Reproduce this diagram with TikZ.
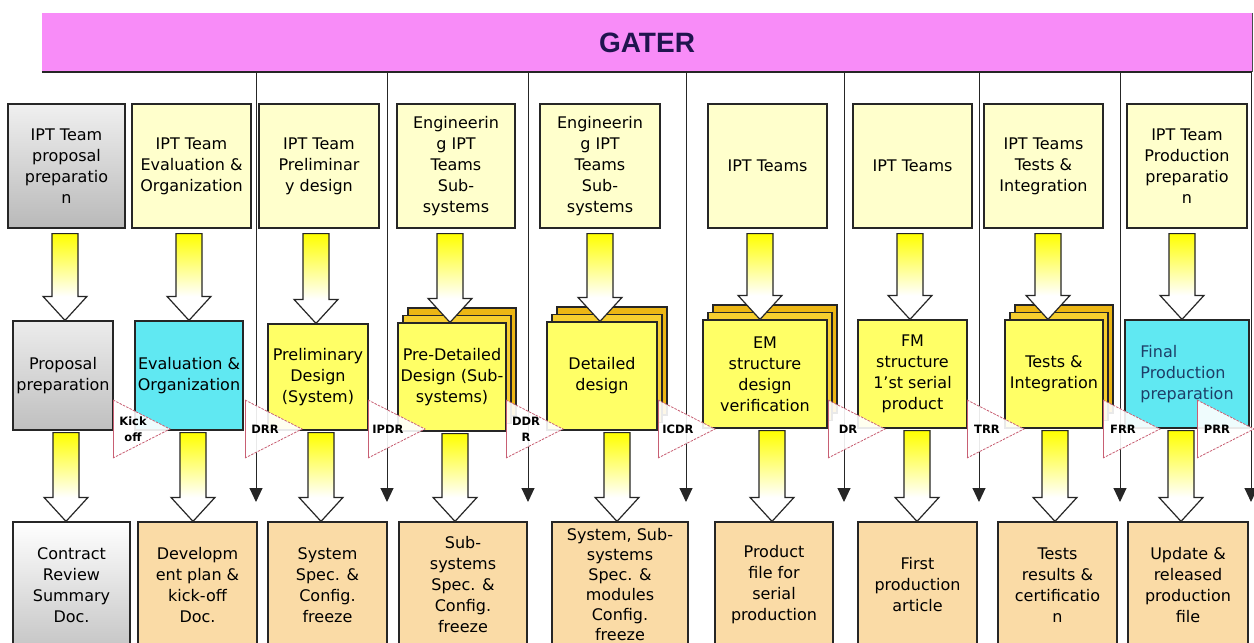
\documentclass[tikz,border=0pt]{standalone}
\usepackage{fontspec}
\setmainfont{DejaVu Sans}
\newfontfamily\titlefont{Liberation Sans}
\usetikzlibrary{arrows.meta,calc,shadows}

\definecolor{bannerpink}{RGB}{248,140,248}
\definecolor{gatertext}{RGB}{32,20,78}
\definecolor{teampale}{RGB}{255,255,204}
\definecolor{phaseyellow}{RGB}{255,255,102}
\definecolor{cyanfill}{RGB}{96,232,242}
\definecolor{docbeige}{RGB}{250,219,166}
\definecolor{sheetgold}{RGB}{236,182,20}
\definecolor{sheetgoldlight}{RGB}{246,206,46}
\definecolor{gateline}{RGB}{200,95,115}
\definecolor{finaltext}{RGB}{30,62,104}

% hollow block arrow: #1 = x, #2 = source node, #3 = target node, #4 = gap below source
\newcommand\blockarrow[4]{%
  \path let \p1=(#2.south), \p2=(#3.north) in
    (#1pt,\y1-#4pt) coordinate (ba-top)
    (#1pt,\y2+24pt) coordinate (ba-neck)
    (#1pt,\y2) coordinate (ba-tip);
  \fill[white] ($(ba-top)+(-13,0)$) -- ($(ba-top)+(13,0)$) -- ($(ba-neck)+(13,0)$)
    -- ($(ba-neck)+(22,0)$) -- (ba-tip) -- ($(ba-neck)+(-22,0)$) -- ($(ba-neck)+(-13,0)$) -- cycle;
  \shade[top color=yellow, middle color=yellow!75, bottom color=white]
    ($(ba-top)+(-13,0)$) rectangle ($(ba-neck)+(13,0)$);
  \draw[arrowline] ($(ba-top)+(-13,0)$) -- ($(ba-top)+(13,0)$) -- ($(ba-neck)+(13,0)$)
    -- ($(ba-neck)+(22,0)$) -- (ba-tip) -- ($(ba-neck)+(-22,0)$) -- ($(ba-neck)+(-13,0)$) -- cycle;
}

% review gate: #1 = name, #2 = left x, #3 = label
\newcommand\gate[3]{%
  \fill[white, fill opacity=0.9] (#2,400) -- (#2+57,429) -- (#2,458) -- cycle;
  \draw[gateline, line width=0.8pt, dash pattern=on 2.5pt off 1.2pt] (#2,400) -- (#2+57,429) -- (#2,458);
  \draw[gateline, line width=0.8pt] (#2,400) -- (#2,458);
  \node[gatelabel] (#1) at (#2+20,429) {#3};
}

\begin{document}
\begin{tikzpicture}[x=1pt, y=-1pt,
  box/.style={draw=black!85, line width=1.2pt, inner sep=2pt, align=center,
              font=\fontsize{16}{21}\selectfont},
  team/.style={box, fill=teampale, minimum height=124pt},
  teamgrey/.style={box, top color=gray!12, bottom color=gray!55, minimum height=124pt},
  phase/.style={box, fill=phaseyellow},
  phasecyan/.style={box, fill=cyanfill},
  phasegrey/.style={box, top color=gray!15, bottom color=gray!50},
  sheets/.style={phase,
    copy shadow={shadow xshift=10pt, shadow yshift=15pt, fill=sheetgold, draw=black!85, line width=1.2pt},
    copy shadow={shadow xshift=5pt, shadow yshift=7.5pt, fill=sheetgoldlight, draw=black!85, line width=1.2pt}},
  doc/.style={box, fill=docbeige, minimum height=126pt},
  docgrey/.style={box, top color=white, bottom color=gray!45, minimum height=126pt},
  arrowline/.style={draw=black!85, line width=1.2pt, line join=miter},
  sepline/.style={draw=black!85, line width=1pt, -{Triangle[length=14pt,width=13pt]}},
  gatelabel/.style={align=center, inner sep=0pt, font=\bfseries\fontsize{11.5}{16}\selectfont}
]
\useasboundingbox (0,0) rectangle (1254,643);
\fill[white] (0,0) rectangle (1254,643);
\clip (0,0) rectangle (1254,643);

% title banner
\node[fill=bannerpink, minimum width=1210pt, minimum height=59pt, inner sep=0pt,
      text=gatertext, font=\titlefont\bfseries\fontsize{28}{30}\selectfont]
  (banner) at (647,42.5) {GATER};
\draw[black!85, line width=2.5pt] (banner.south west) -- (banner.south east);
\draw[black!70, line width=1pt] (banner.north east) -- (banner.south east);

% phase separators ending in gate arrows
\foreach \sx [count=\i] in {256,387,528,686,844,979,1120,1251}
  \coordinate (sep\i) at (\sx,502);
\foreach \i in {1,...,8}
  \draw[sepline] (sep\i |- banner.south) -- (sep\i);

% teams
\node[teamgrey, minimum width=117pt] (t1) at (66.5,166) {IPT Team\\proposal\\preparatio\\n};
\node[team, minimum width=119pt] (t2) at (191.5,166) {IPT Team\\Evaluation \&\\Organization};
\node[team, minimum width=120pt] (t3) at (319,166) {IPT Team\\Preliminar\\y design};
\node[team, minimum width=118pt] (t4) at (456,166) {Engineerin\\g IPT\\Teams\\Sub-\\systems};
\node[team, minimum width=120pt] (t5) at (600,166) {Engineerin\\g IPT\\Teams\\Sub-\\systems};
\node[team, minimum width=119pt] (t6) at (767.5,166) {IPT Teams};
\node[team, minimum width=119pt] (t7) at (912.5,166) {IPT Teams};
\node[team, minimum width=119pt] (t8) at (1043.5,166) {IPT Teams\\Tests \&\\Integration};
\node[team, minimum width=120pt] (t9) at (1187,166) {IPT Team\\Production\\preparatio\\n};

% phases
\node[phasegrey, minimum width=100pt, minimum height=109pt] (m1) at (63,375.5) {Proposal\\preparation};
\node[phasecyan, minimum width=108pt, minimum height=109pt] (m2) at (189,375.5) {Evaluation \&\\Organization};
\node[phase, minimum width=100pt, minimum height=106pt] (m3) at (318,377) {Preliminary\\Design\\(System)};
\node[sheets, minimum width=108pt, minimum height=108pt] (m4) at (452,377) {Pre-Detailed\\Design (Sub-\\systems)};
\node[sheets, minimum width=110pt, minimum height=108pt] (m5) at (602,376) {Detailed\\design};
\node[sheets, minimum width=124pt, minimum height=108pt] (m6) at (765,374) {EM\\structure\\design\\verification};
\node[phase, minimum width=109pt, minimum height=108pt] (m7) at (912.5,374) {FM\\structure\\1'st serial\\product};
\node[sheets, minimum width=98pt, minimum height=108pt] (m8) at (1054,374) {Tests \&\\Integration};
\node[phasecyan, minimum width=124pt, minimum height=108pt, align=left, text=finaltext]
  (m9) at (1187,374) {Final\\Production\\preparation};

% documents
\node[docgrey, minimum width=117pt] (b1) at (71.5,585) {Contract\\Review\\Summary\\Doc.};
\node[doc, minimum width=119pt] (b2) at (197.5,585) {Developm\\ent plan \&\\kick-off\\Doc.};
\node[doc, minimum width=119pt] (b3) at (327.5,585) {System\\Spec. \&\\Config.\\freeze};
\node[doc, minimum width=128pt] (b4) at (463,585) {Sub-\\systems\\Spec. \&\\Config.\\freeze};
\node[doc, minimum width=136pt, font=\fontsize{16}{20}\selectfont] (b5) at (620,585)
  {System, Sub-\\systems\\Spec. \&\\modules\\Config.\\freeze};
\node[doc, minimum width=118pt] (b6) at (774,585) {Product\\file for\\serial\\production};
\node[doc, minimum width=119pt] (b7) at (917.5,585) {First\\production\\article};
\node[doc, minimum width=119pt] (b8) at (1057.5,585) {Tests\\results \&\\certificatio\\n};
\node[doc, minimum width=120pt] (b9) at (1188,585) {Update \&\\released\\production\\file};

% team -> phase
\blockarrow{65}{t1}{m1}{5}
\blockarrow{189}{t2}{m2}{5}
\blockarrow{316}{t3}{m3}{5}
\blockarrow{450}{t4}{m4}{5}
\blockarrow{600}{t5}{m5}{5}
\blockarrow{760}{t6}{m6}{5}
\blockarrow{910}{t7}{m7}{5}
\blockarrow{1048}{t8}{m8}{5}
\blockarrow{1182}{t9}{m9}{5}

% phase -> document
\blockarrow{66}{m1}{b1}{2}
\blockarrow{193}{m2}{b2}{2}
\blockarrow{321}{m3}{b3}{2}
\blockarrow{455}{m4}{b4}{2}
\blockarrow{617}{m5}{b5}{2}
\blockarrow{772}{m6}{b6}{2}
\blockarrow{917}{m7}{b7}{2}
\blockarrow{1055}{m8}{b8}{2}
\blockarrow{1181}{m9}{b9}{2}

% review gates
\gate{kickoff}{113}{Kick\\off}
\gate{drr}{245}{DRR}
\gate{ipdr}{368}{IPDR}
\gate{ddrr}{506}{DDR\\R}
\gate{icdr}{658}{ICDR}
\gate{dr}{828}{DR}
\gate{trr}{967}{TRR}
\gate{frr}{1103}{FRR}
\gate{prr}{1197}{PRR}
\end{tikzpicture}
\end{document}
